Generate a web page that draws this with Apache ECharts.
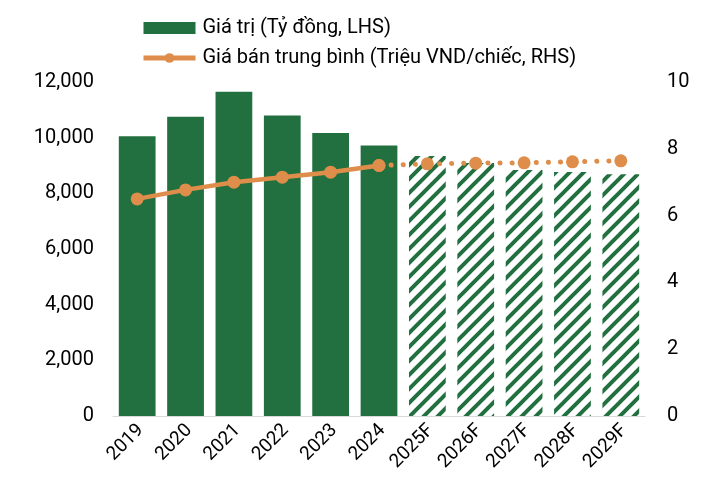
<!DOCTYPE html>
<html>
<head>
<meta charset="utf-8">
<script src="https://cdn.jsdelivr.net/npm/echarts@6/dist/echarts.min.js"></script>
<style>
html,body{margin:0;padding:0;background:#fff;}
#chart{width:710px;height:495px;}
</style>
</head>
<body>
<div id="chart"></div>
<script>
var years = ['2019','2020','2021','2022','2023','2024','2025F','2026F','2027F','2028F','2029F'];
var giaTri = [10050, 10750, 11650, 10800, 10170, 9720, 9340, 9090, 8840, 8770, 8690];
var giaBan = [6.5, 6.77, 7.0, 7.15, 7.3, 7.5, 7.55, 7.57, 7.58, 7.61, 7.64];
var firstForecast = 6;

var green = '#22703f';
var orange = '#df8d4b';

// hatch pattern for forecast bars
var tile = document.createElement('canvas');
tile.width = 14; tile.height = 14;
var ctx = tile.getContext('2d');
ctx.fillStyle = '#fff';
ctx.fillRect(0, 0, 14, 14);
ctx.strokeStyle = green;
ctx.lineWidth = 4;
ctx.beginPath();
ctx.moveTo(-2, 16); ctx.lineTo(16, -2);
ctx.moveTo(-9, 9); ctx.lineTo(9, -9);
ctx.moveTo(5, 23); ctx.lineTo(23, 5);
ctx.stroke();

var barData = giaTri.map(function (v, i) {
    if (i < firstForecast) return v;
    return { value: v, itemStyle: { color: { image: tile, repeat: 'repeat' } } };
});
var lineActual = giaBan.map(function (v, i) { return i < firstForecast ? v : '-'; });
var lineFcst = giaBan.map(function (v, i) { return i >= firstForecast - 1 ? v : '-'; });

var font = 'Roboto';
var option = {
    animation: false,
    textStyle: { fontFamily: font },
    legend: {
        orient: 'vertical',
        left: 136,
        top: 13,
        itemWidth: 52,
        itemHeight: 12,
        itemGap: 10,
        textStyle: { fontSize: 20, color: '#000', fontFamily: font, padding: [0, 0, 0, 2] },
        data: [
            { name: 'Giá trị (Tỷ đồng, LHS)', icon: 'rect' },
            {
                name: 'Giá bán trung bình (Triệu VND/chiếc, RHS)',
                lineStyle: { width: 5, color: orange },
                itemStyle: { color: orange }
            }
        ]
    },
    grid: { left: 113, right: 65, top: 82, bottom: 79 },
    xAxis: {
        type: 'category',
        data: years,
        axisLine: { lineStyle: { color: '#d9d9d9', width: 1 } },
        axisTick: { show: false },
        axisLabel: { rotate: 45, fontSize: 19, color: '#000', margin: 15, padding: [0, -5, 0, 0], fontFamily: font }
    },
    yAxis: [
        {
            type: 'value', min: 0, max: 12000, interval: 2000,
            splitLine: { show: false },
            axisLine: { show: false },
            axisLabel: {
                fontSize: 20, color: '#000', margin: 19, fontFamily: font,
                formatter: function (v) { return v.toLocaleString('en-US'); }
            }
        },
        {
            type: 'value', min: 0, max: 10, interval: 2,
            splitLine: { show: false },
            axisLine: { show: false },
            axisLabel: { fontSize: 20, color: '#000', margin: 22, fontFamily: font }
        }
    ],
    series: [
        {
            name: 'Giá trị (Tỷ đồng, LHS)',
            type: 'bar',
            data: barData,
            barCategoryGap: '24%',
            itemStyle: { color: green }
        },
        {
            name: 'Giá bán trung bình (Triệu VND/chiếc, RHS)',
            type: 'line',
            yAxisIndex: 1,
            data: lineActual,
            symbol: 'circle',
            symbolSize: 13,
            itemStyle: { color: orange },
            lineStyle: { color: orange, width: 4.5 },
            z: 3
        },
        {
            name: 'Giá bán trung bình (Triệu VND/chiếc, RHS)',
            type: 'line',
            yAxisIndex: 1,
            data: lineFcst,
            symbol: 'circle',
            symbolSize: 13,
            itemStyle: { color: orange },
            lineStyle: { color: orange, width: 5, type: [0.1, 12], cap: 'round' },
            z: 3
        }
    ]
};
var myChart = echarts.init(document.getElementById('chart'));
myChart.setOption(option);
</script>
</body>
</html>
